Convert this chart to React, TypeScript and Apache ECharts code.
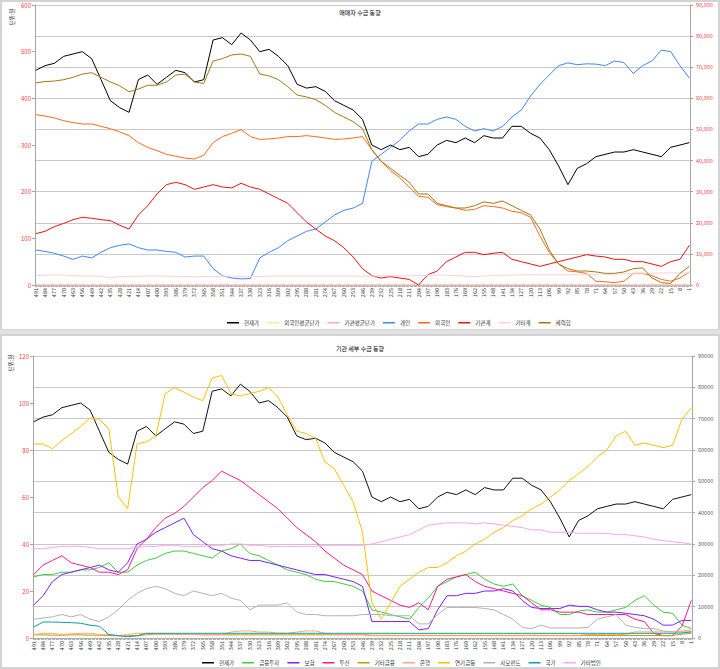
import React, { useEffect, useRef } from "react";
import * as echarts from "echarts";

// sampled trading-day labels (every 7th category, 491 .. 1)
const days = [491,484,477,470,463,456,449,442,435,428,421,414,407,400,393,386,379,372,365,358,351,344,337,330,323,316,309,302,295,288,281,274,267,260,253,246,239,232,225,218,211,204,197,190,183,176,169,162,155,148,141,134,127,120,113,106,99,92,85,78,71,64,57,50,43,36,29,22,15,8,1];
const categories = Array.from({ length: 491 }, (_, i) => String(491 - i));

// ---- top chart: 매매자 수급 동향 ----
const price = [460,470,475,490,495,500,485,440,395,380,370,440,450,430,445,460,455,435,440,525,530,515,540,525,500,505,490,470,430,422,425,415,395,385,375,355,300,290,300,290,295,275,280,300,310,305,315,305,320,315,315,340,340,325,315,290,255,215,250,260,275,280,285,285,290,285,280,275,295,300,305];
const foreignAvg = [0,0,0,0,0,0,0,0,0,0,0,0,0,0,0,0,0,0,0,0,0,0,0,0,0,0,0,0,0,0,0,0,0,0,0,0,0,0,0,0,0,0,0,0,0,0,0,0,0,0,0,0,0,0,0,0,0,0,0,0,0,0,0,0,0,0,0,0,0,0,0];
const instAvg = [0,0,0,0,0,0,0,0,0,0,0,0,0,0,0,0,0,0,0,0,0,0,0,0,0,0,0,0,0,0,0,0,0,0,0,0,0,0,0,0,0,0,0,0,0,0,0,0,0,0,0,0,0,0,0,0,0,0,0,0,0,0,0,0,0,0,0,0,0,0,0];
const individual = [11250,10800,10200,9300,8250,9300,8700,10500,12000,12750,13200,12000,11250,11250,10800,10500,9000,9300,9300,5250,3000,2250,1950,2100,8700,10500,12000,14250,15750,17250,18000,20250,22500,24000,24750,26250,39750,42000,44250,46500,49500,51750,51750,53250,54000,53250,51000,49500,50250,49500,51000,54000,56250,60750,64500,67500,70500,71400,70800,71100,71000,70500,72000,71500,68000,70500,72000,75500,75000,70500,66500];
const foreign = [54750,54300,53700,52800,52200,51750,51750,51000,50250,49200,48000,45750,44250,43200,42000,41400,40800,40500,41700,45750,47700,48750,49950,47700,46800,46950,47250,47700,47700,48000,47700,47250,46800,46950,47250,47700,43500,39750,36750,34500,31500,28500,28200,25800,25200,24750,24000,24300,25500,25200,24750,23700,23250,21750,15750,10500,6750,4500,4200,3750,1200,1050,750,1200,3750,3750,3000,1800,1200,2250,4200];
const institution = [16500,17250,18750,19800,21000,21750,21450,21000,20700,19200,18000,22500,25500,29250,32250,33000,32250,30750,31500,32250,31500,31200,32700,31500,30750,29250,27750,26250,23250,20250,18000,15750,14250,12000,9000,5250,3000,2250,2700,2250,1800,0,3300,4500,7500,9000,10500,10500,9750,10200,10500,8250,7500,6750,6000,6750,7500,8250,9000,9750,9300,9000,8250,8250,7500,7500,6750,6000,7500,8250,12750];
const others = [3000,3150,3300,3150,3000,2850,2850,2850,2250,2700,2700,2850,2850,2850,2850,2700,2700,2700,2700,2700,2850,2850,2700,2700,2700,2850,2850,2850,2850,2850,2850,2850,2850,2850,2850,2850,2850,3000,3000,3000,3000,3000,3150,3150,3150,3000,2850,2700,2850,3000,3150,3150,3300,3300,3300,3300,3300,3300,3300,3300,3450,3450,3450,3600,3600,3600,3750,3900,3900,3900,3900];
const majorSum = [64950,65400,65550,66000,66750,67800,68250,66750,65250,64050,62100,63000,64200,64200,65250,67500,67800,65250,64800,72000,72750,73950,74250,73500,67800,67200,66000,63750,61050,60450,59550,57750,55500,54000,52500,50250,43500,39750,37500,35250,33000,29250,29250,26250,25500,24750,24750,25500,26700,26250,27000,25500,24000,22500,18000,11250,6750,5250,4500,4500,4200,3750,3750,4200,5250,5500,2250,750,500,3750,6000];

// ---- bottom chart: 기관 세부 수급 동향 ----
const price2 = [92,94,95,98,99,100,97,88,79,76,74,88,90,86,89,92,91,87,88,105,106,103,108,105,100,101,98,94,86,84.4,85,83,79,77,75,71,60,58,60,58,59,55,56,60,62,61,63,61,64,63,63,68,68,65,63,58,51,43,50,52,55,56,57,57,58,57,56,55,59,60,61];
const finInvest = [19500,20250,20250,21000,21000,21750,21750,22500,24000,21000,21000,23250,24750,25500,27000,27750,27750,27000,26250,25500,27750,28500,30000,27000,26250,24750,23250,21750,21000,20250,18750,18000,18000,17250,16500,15000,9000,8250,7500,6750,6000,9750,12750,16500,18000,19500,20250,21000,18750,17250,16500,17250,13500,12000,10500,9750,7500,7500,8600,9000,8250,8250,9000,9750,12000,13500,10500,8250,7900,4100,3000];
const insurance = [10500,13500,18000,20250,21000,21750,22500,23250,21750,21000,24000,30000,31500,33750,35250,36750,38250,33000,30750,28500,27750,26250,25500,24750,24750,24000,23250,22500,21750,21000,20250,20250,19500,18750,18000,16500,5250,5250,5250,5250,5250,2600,3000,9000,13500,13500,14250,14250,15000,15000,15750,15000,12000,9750,9400,9400,9400,10500,10100,10100,9000,8250,8250,7900,7500,7100,6000,4100,4100,5600,5600];
const trust = [20250,23250,24750,26250,24000,23250,22500,21000,21000,20250,21750,28500,31500,35250,38250,39750,42000,45000,48000,50250,53250,51750,50250,48000,45750,43500,41250,38250,35250,33000,30750,27750,25500,23250,21750,20250,15000,13500,12000,10500,9750,11250,9000,16500,18750,19500,20250,18000,16500,15750,15000,14250,13500,11250,9000,9000,8250,8250,8250,7500,7500,7500,7500,7500,6000,5250,1500,750,750,3750,12000];
const otherFin = [1000,1000,900,900,1000,1000,900,900,800,700,700,800,1000,1300,1300,1300,1200,1200,1000,1000,1000,1000,1000,1000,1000,1000,1000,1000,1000,1000,1000,1000,1000,1000,1000,1000,750,750,750,750,750,750,750,750,750,750,750,750,750,750,750,750,750,750,750,750,750,750,750,800,800,800,800,800,800,800,800,800,800,1200,1500];
const bank = [1100,1500,1500,1100,1350,1500,1500,1100,1100,750,1100,1500,1500,1100,1100,1100,1100,1100,1100,1100,1100,1900,2250,2250,1900,1900,1500,1500,1900,2250,2250,1500,1100,1100,1100,1100,900,900,900,900,900,900,900,900,900,900,900,900,900,900,900,900,900,900,900,900,900,900,900,1100,1100,1100,1100,1100,1950,1950,1950,1950,1950,2250,2550];
const pension = [61900,61900,60400,63000,65250,67500,70200,69750,66750,45000,41250,61900,62600,64500,78000,79900,78450,76900,75750,82950,83800,78000,77250,78000,78750,79900,76900,71250,66000,65250,63750,56250,54000,48750,43500,33750,11250,6000,11250,16500,18750,21000,22500,22500,24000,26250,27750,30000,31500,33750,35250,37500,39000,41250,42750,45000,47250,50250,52500,54750,57750,60000,64500,66000,61500,62250,61500,60750,61500,69750,73500];
const privateFund = [6000,6400,6750,7500,6750,7500,6000,5250,6750,9000,12000,14250,15750,16500,15750,14250,13500,15000,14250,13500,14250,12750,12000,9000,10500,10500,10500,11250,8250,7500,7500,7100,7100,7100,7100,7500,7500,7500,7100,7100,7100,4500,4500,7500,9750,9750,9750,9750,9400,9000,7500,6000,3400,3000,4100,3200,3200,3200,3200,3400,6000,6750,7500,4100,3400,3000,3000,2250,1950,1950,1950];
const nation = [3500,5100,5100,5000,4900,4700,4100,3750,1100,750,400,700,1500,1500,1500,1500,1500,1500,1500,1500,1500,1500,1500,1500,1500,1500,1500,1500,1500,1500,1500,1500,1500,1500,1500,1500,1500,1500,1500,1500,1500,1500,1500,1500,1500,1500,1500,1500,1500,1500,1500,1500,1500,1500,1500,1500,1500,1500,1500,1500,1500,1500,1500,1500,1500,1500,1500,1500,1500,1600,1950];
const otherCorp = [28500,28500,28900,29250,29250,29250,28900,28500,28500,28500,28500,28900,29250,29250,29600,29600,29250,29250,29250,29600,29600,30000,30000,29600,29600,29250,29250,29250,29250,29250,29250,29600,29600,29600,29600,29600,30000,30750,31500,32250,33000,34500,36000,36400,36750,36750,36750,36400,36750,36400,36000,35600,35250,34500,34500,33750,33750,33750,33400,33400,33400,33400,33000,33000,32600,32250,31500,31100,30750,30400,30000];

const FONT = '"Noto Sans CJK KR", "Noto Sans", sans-serif';

export default function App() {
  const ref = useRef<HTMLDivElement>(null);
  useEffect(() => {
    const chart = echarts.init(ref.current!, null, { renderer: "svg" });
    const pairs = (vals: number[]) => days.map((d, i) => [String(d), vals[i]]);
    const line = (name: string, vals: number[], color: string, xi: number, yi: number, width = 1) => ({
      name,
      type: "line",
      xAxisIndex: xi,
      yAxisIndex: yi,
      data: pairs(vals),
      showSymbol: false,
      symbol: "none",
      lineStyle: { color, width },
      itemStyle: { color },
      silent: true,
    });
    const xAxisBase = (gridIndex: number) => ({
      type: "category",
      gridIndex,
      data: categories,
      boundaryGap: true,
      axisLine: { lineStyle: { color: "#a6a6a6" } },
      axisTick: { show: true, interval: 0, length: 2, lineStyle: { color: "#b0b0b0" } },
      axisLabel: { interval: 6, rotate: 90, fontSize: 5.5, color: "#333", margin: 3, fontFamily: FONT },
      splitLine: { show: false },
    });
    const commas = (v: number) => v.toLocaleString("en-US");
    const plain = (v: number) => String(v);
    const option = {
      animation: false,
      backgroundColor: "#ffffff",
      textStyle: { fontFamily: FONT },
      title: [
        { text: "매매자 수급 동향", left: "center", top: 4, textStyle: { fontSize: 6, color: "#000", fontWeight: "normal", fontFamily: FONT } },
        { text: "기관 세부 수급 동향", left: "center", top: 340, textStyle: { fontSize: 6, color: "#000", fontWeight: "normal", fontFamily: FONT } },
      ],
      legend: [
        {
          data: ["현재가", "외국인평균단가", "기관평균단가", "개인", "외국인", "기관계", "기타계", "세력합"],
          left: 222, top: 315, icon: "rect", itemWidth: 12, itemHeight: 1.5, itemGap: 8,
          textStyle: { fontSize: 5.5, color: "#333", fontFamily: FONT },
        },
        {
          data: ["현재가", "금융투자", "보험", "투신", "기타금융", "은행", "연기금등", "사모펀드", "국가", "기타법인"],
          left: 197, top: 655, icon: "rect", itemWidth: 12, itemHeight: 1.5, itemGap: 8,
          textStyle: { fontSize: 5.5, color: "#333", fontFamily: FONT },
        },
      ],
      grid: [
        { left: 35, right: 30, top: 5, height: 280 },
        { left: 33, right: 28, top: 356, height: 282 },
      ],
      xAxis: [xAxisBase(0), xAxisBase(1)],
      yAxis: [
        {
          type: "value", gridIndex: 0, position: "left", min: 0, max: 600, interval: 100,
          axisLine: { show: true, lineStyle: { color: "#a6a6a6" } },
          axisTick: { show: true, length: 3, lineStyle: { color: "#a6a6a6" } },
          axisLabel: { fontSize: 6, color: "#ff4040", margin: 4, fontFamily: FONT },
          splitLine: { show: false },
        },
        {
          type: "value", gridIndex: 0, position: "right", min: 0, max: 90000, interval: 10000,
          axisLine: { show: true, lineStyle: { color: "#a6a6a6" } },
          axisTick: { show: true, length: 3, lineStyle: { color: "#a6a6a6" } },
          axisLabel: { fontSize: 5.5, color: "#ff4040", margin: 6, formatter: commas, fontFamily: FONT },
          splitLine: { show: true, lineStyle: { color: "#c8c8c8", width: 1 } },
        },
        {
          type: "value", gridIndex: 1, position: "left", min: 0, max: 120, interval: 20,
          axisLine: { show: true, lineStyle: { color: "#a6a6a6" } },
          axisTick: { show: true, length: 3, lineStyle: { color: "#a6a6a6" } },
          axisLabel: { fontSize: 6, color: "#ff4040", margin: 4, fontFamily: FONT },
          splitLine: { show: false },
        },
        {
          type: "value", gridIndex: 1, position: "right", min: 0, max: 90000, interval: 10000,
          axisLine: { show: true, lineStyle: { color: "#a6a6a6" } },
          axisTick: { show: true, length: 3, lineStyle: { color: "#a6a6a6" } },
          axisLabel: { fontSize: 5.5, color: "#595959", margin: 6, formatter: plain, fontFamily: FONT },
          splitLine: { show: true, lineStyle: { color: "#c8c8c8", width: 1 } },
        },
      ],
      graphic: [
        { type: "rect", shape: { x: 1, y: 1, width: 718, height: 329 }, style: { fill: "none", stroke: "#d4d4d4", lineWidth: 2 }, silent: true },
        { type: "rect", shape: { x: 0, y: 330, width: 720, height: 5 }, style: { fill: "#e2e2e2" }, silent: true },
        { type: "rect", shape: { x: 1, y: 335, width: 718, height: 333 }, style: { fill: "none", stroke: "#d4d4d4", lineWidth: 2 }, silent: true },
        { type: "text", x: 12, y: 17, rotation: Math.PI / 2, style: { text: "단위:원", fontSize: 5.5, fill: "#222", align: "center", verticalAlign: "middle", fontFamily: FONT }, silent: true },
        { type: "text", x: 11, y: 363, rotation: Math.PI / 2, style: { text: "단위:원", fontSize: 5.5, fill: "#222", align: "center", verticalAlign: "middle", fontFamily: FONT }, silent: true },
      ],
      series: [
        line("현재가", price, "#000000", 0, 0),
        line("외국인평균단가", foreignAvg, "#ffe699", 0, 0),
        line("기관평균단가", instAvg, "#ffa6c9", 0, 0),
        line("개인", individual, "#3f87f5", 0, 1),
        line("외국인", foreign, "#ff6a1a", 0, 1),
        line("기관계", institution, "#ee1111", 0, 1),
        line("기타계", others, "#ffd2d8", 0, 1),
        line("세력합", majorSum, "#a27a12", 0, 1),
        line("현재가", price2, "#111111", 1, 2),
        line("금융투자", finInvest, "#3ccf3c", 1, 3),
        line("보험", insurance, "#7d1fff", 1, 3),
        line("투신", trust, "#ff1a8c", 1, 3),
        line("기타금융", otherFin, "#bba100", 1, 3),
        line("은행", bank, "#ffa877", 1, 3),
        line("연기금등", pension, "#ffc000", 1, 3),
        line("사모펀드", privateFund, "#b3b3b3", 1, 3),
        line("국가", nation, "#0f9bab", 1, 3),
        line("기타법인", otherCorp, "#ffa3f2", 1, 3),
      ],
    };
    chart.setOption(option as any);
    return () => chart.dispose();
  }, []);
  return (
    <div
      ref={ref}
      style={{ position: "absolute", left: 0, top: 0, width: 720, height: 669, background: "#fff" }}
    />
  );
}
